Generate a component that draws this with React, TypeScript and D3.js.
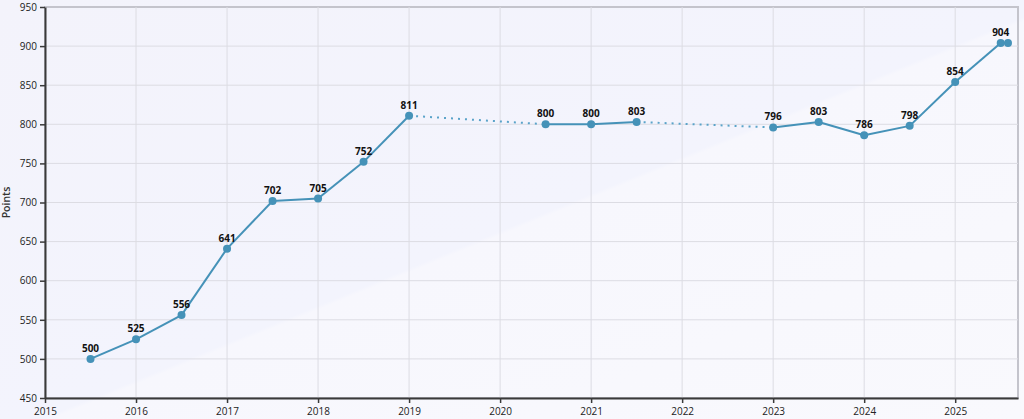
import React, { useEffect, useRef } from "react";
import * as d3 from "d3";

// dates as fractional years (Jan = .0, Jul = .5)
const years = [2015.5, 2016, 2016.5, 2017, 2017.5, 2018, 2018.5, 2019, 2020.5, 2021, 2021.5, 2023, 2023.5, 2024, 2024.5, 2025, 2025.5, 2025.58];
const points = [500, 525, 556, 641, 702, 705, 752, 811, 800, 800, 803, 796, 803, 786, 798, 854, 904, 904];
const showLabel = [true, true, true, true, true, true, true, true, true, true, true, true, true, true, true, true, true, false];
const xTicks = [2015, 2016, 2017, 2018, 2019, 2020, 2021, 2022, 2023, 2024, 2025];
const yTicks = [450, 500, 550, 600, 650, 700, 750, 800, 850, 900, 950];

const W = 1024;
const H = 419;
const margin = { top: 7, right: 6, bottom: 21, left: 45 };

const App = () => {
  const ref = useRef<SVGSVGElement>(null);

  useEffect(() => {
    document.body.style.margin = "0";
    const svg = d3.select(ref.current);
    svg.selectAll("*").remove();

    const font = "'Open Sans', 'Noto Sans', sans-serif";

    const defs = svg.append("defs");
    const grad = defs.append("linearGradient").attr("id", "bg")
      .attr("x1", "0").attr("y1", "0").attr("x2", "1").attr("y2", "1");
    grad.append("stop").attr("offset", "0%").attr("stop-color", "#f3f3fb");
    grad.append("stop").attr("offset", "52%").attr("stop-color", "#f3f4fd");
    grad.append("stop").attr("offset", "52.5%").attr("stop-color", "#f7f7fd");
    grad.append("stop").attr("offset", "100%").attr("stop-color", "#f9f9fd");

    svg.append("rect").attr("width", W).attr("height", H).attr("fill", "url(#bg)");

    const x = d3.scaleLinear().domain([2015, 2025.69]).range([margin.left, W - margin.right]);
    const y = d3.scaleLinear().domain([450, 950]).range([H - margin.bottom, margin.top]);

    // plot frame (top/right shaded border)
    svg.append("rect")
      .attr("x", margin.left).attr("y", margin.top)
      .attr("width", W - margin.right - margin.left)
      .attr("height", H - margin.bottom - margin.top)
      .attr("fill", "none").attr("stroke", "#c4c4cc").attr("stroke-width", 2);

    // grid
    svg.append("g").selectAll("line").data(yTicks.slice(1, -1)).join("line")
      .attr("x1", margin.left).attr("x2", W - margin.right)
      .attr("y1", (d) => y(d)).attr("y2", (d) => y(d))
      .attr("stroke", "#dcdce3").attr("stroke-width", 1);
    svg.append("g").selectAll("line").data(xTicks.slice(1)).join("line")
      .attr("y1", margin.top).attr("y2", H - margin.bottom)
      .attr("x1", (d) => x(d)).attr("x2", (d) => x(d))
      .attr("stroke", "#dcdce3").attr("stroke-width", 1);

    // axes
    const xAxis = svg.append("g")
      .attr("transform", `translate(0, ${H - margin.bottom})`)
      .call(d3.axisBottom(x).tickValues(xTicks).tickFormat(d3.format("d")).tickSize(5).tickSizeOuter(0));
    const yAxis = svg.append("g")
      .attr("transform", `translate(${margin.left}, 0)`)
      .call(d3.axisLeft(y).tickValues(yTicks).tickSize(5).tickSizeOuter(0));
    [xAxis, yAxis].forEach((g) => {
      g.select(".domain").attr("stroke", "#3a3a3a").attr("stroke-width", 2);
      g.selectAll(".tick line").attr("stroke", "#3a3a3a").attr("stroke-width", 1.5);
      g.selectAll("text").attr("font-family", font).attr("font-size", 10).attr("fill", "#222");
    });
    xAxis.selectAll("text").attr("dy", "0.9em");

    svg.append("text")
      .attr("transform", `translate(10, ${(margin.top + H - margin.bottom) / 2}) rotate(-90)`)
      .attr("text-anchor", "middle")
      .attr("font-family", font).attr("font-size", 10.5).attr("font-weight", 600).attr("fill", "#333")
      .text("Points");

    const data = years.map((yr, i) => ({ yr, v: points[i], label: showLabel[i] }));
    const color = "#4592b8";

    // segments: solid when consecutive, dotted across gaps
    for (let i = 1; i < data.length; i++) {
      const a = data[i - 1];
      const b = data[i];
      const gap = b.yr - a.yr > 0.55;
      svg.append("line")
        .attr("x1", x(a.yr)).attr("y1", y(a.v))
        .attr("x2", x(b.yr)).attr("y2", y(b.v))
        .attr("stroke", gap ? "#5aa3c9" : color)
        .attr("stroke-width", 2)
        .attr("stroke-dasharray", gap ? "2,5" : null);
    }

    svg.append("g").selectAll("circle").data(data).join("circle")
      .attr("cx", (d) => x(d.yr)).attr("cy", (d) => y(d.v))
      .attr("r", 4).attr("fill", color);

    svg.append("g").selectAll("text").data(data.filter((d) => d.label)).join("text")
      .attr("x", (d) => x(d.yr)).attr("y", (d) => y(d.v) - 7)
      .attr("text-anchor", "middle")
      .attr("font-family", font).attr("font-size", 10).attr("font-weight", 700)
      .attr("fill", "#111")
      .text((d) => d.v);
  }, []);

  return <svg ref={ref} width={W} height={H} style={{ display: "block" }} />;
};

export default App;
